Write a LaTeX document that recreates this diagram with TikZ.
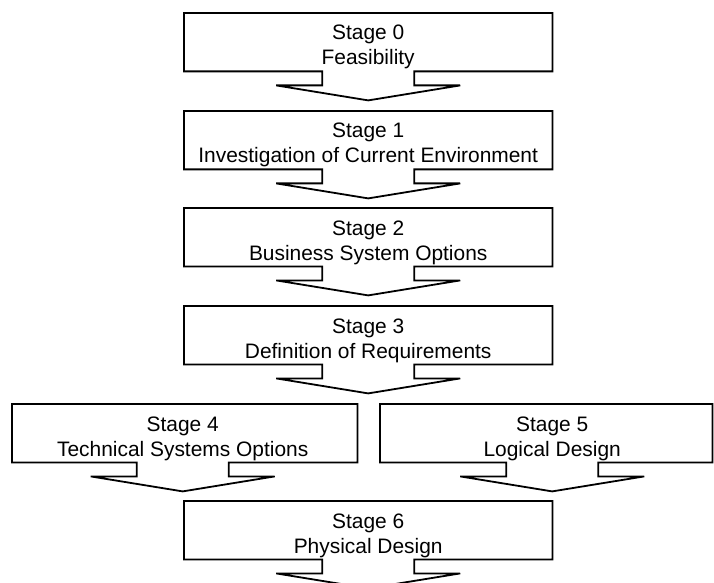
\documentclass[tikz,border=0pt]{standalone}
\usepackage{fontspec}
\setmainfont{Liberation Sans}
\usetikzlibrary{calc}

% One stage: an outline box with a downward arrow merged into its bottom edge,
% and two centred lines of text.
% #1 = name, #2 = left x, #3 = top y, #4 = width, #5 = arrow/text offset from centre,
% #6 = first line, #7 = second line
\newcommand\stage[7]{%
  \node[stagebox, minimum width=#4 bp] (#1) at (#2,#3) {};
  \coordinate (#1-ax) at ($(#1.south)+(#5,0)$);
  \node[stagetext] (#1-num)  at ($(#1.north)+(#5,27)$) {#6};
  \node[stagetext] (#1-name) at ($(#1.north)+(#5,52)$) {#7};
  \draw[outline] (#1.south west) -- (#1.north west) -- (#1.north east) -- (#1.south east)
    -- ($(#1-ax)+(46,0)$) -- ($(#1-ax)+(46,14)$) -- ($(#1-ax)+(92,14)$)
    -- ($(#1-ax)+(0,29)$)
    -- ($(#1-ax)+(-92,14)$) -- ($(#1-ax)+(-46,14)$) -- ($(#1-ax)+(-46,0)$)
    -- cycle;
}

\begin{document}
\begin{tikzpicture}[x=1bp,y=-1bp,
  stagebox/.style={anchor=north west, minimum height=58bp, inner sep=0pt},
  stagetext/.style={anchor=base, inner sep=0pt, font=\fontsize{21}{25}\selectfont},
  outline/.style={draw=black, line width=1.8bp, line join=miter}
]
\useasboundingbox (0,0) rectangle (714,583);
\clip (0,0) rectangle (714,583);

\stage{s0}{184}{13}{368}{0}{Stage 0}{Feasibility}
\stage{s1}{184}{111}{368}{0}{Stage 1}{Investigation of Current Environment}
\stage{s2}{184}{208}{368}{0}{Stage 2}{Business System Options}
\stage{s3}{184}{306}{368}{0}{Stage 3}{Definition of Requirements}
\stage{s4}{12}{404}{345}{-2}{Stage 4}{Technical Systems Options}
\stage{s5}{380}{404}{332}{6}{Stage 5}{Logical Design}
\stage{s6}{184}{501}{368}{0}{Stage 6}{Physical Design}
\end{tikzpicture}
\end{document}
